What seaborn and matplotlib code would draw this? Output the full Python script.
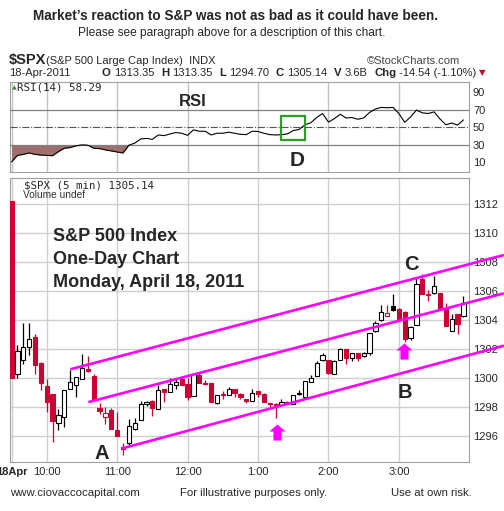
import matplotlib
matplotlib.use("Agg")
import numpy as np
import pandas as pd
import matplotlib.pyplot as plt
import seaborn as sns
from matplotlib.path import Path
from matplotlib.patches import Rectangle

# 5-minute bars of $SPX on 18-Apr-2011, 9:30 .. 3:55
opens = [1312.2, 1300.3, 1301.25, 1302.16, 1302.84, 1301.02, 1299.43, 1298.89, 1296.89, 1297.3,
         1299.25, 1299.55, 1299.9, 1300.64, 1300.11, 1297.93, 1297.3, 1297.8, 1296.39, 1295.25,
         1295.52, 1296.48, 1297.11, 1298.2, 1298.41, 1297.84, 1299.23, 1299.05, 1299.55, 1299.91,
         1299.57, 1298.77, 1300.23, 1299.68, 1299.68, 1298.25, 1298.93, 1298.86, 1299.27, 1298.93,
         1298.55, 1298.43, 1299.09, 1298.89, 1298.25, 1298.2, 1298.11, 1298.36, 1298.2, 1298.98,
         1298.7, 1299.7, 1300.11, 1301.27, 1301.25, 1300.3, 1301.27, 1302.0, 1301.39, 1301.73,
         1301.55, 1301.7, 1303.24, 1303.98, 1304.25, 1304.94, 1304.74, 1304.57, 1302.74, 1303.66,
         1306.8, 1305.82, 1305.89, 1305.84, 1304.8, 1303.24, 1304.39, 1304.28]
highs = [1312.2, 1302.3, 1303.8, 1303.8, 1303.0, 1301.1, 1299.95, 1298.89, 1297.86, 1299.2,
         1300.57, 1300.1, 1301.66, 1301.5, 1300.3, 1298.25, 1297.98, 1297.9, 1297.68, 1295.5,
         1297.16, 1297.25, 1298.41, 1298.43, 1298.48, 1299.55, 1299.23, 1300.02, 1299.91, 1300.14,
         1300.0, 1300.36, 1300.39, 1299.86, 1299.68, 1298.86, 1299.09, 1299.39, 1299.27, 1299.0,
         1298.55, 1299.25, 1299.09, 1298.95, 1298.3, 1298.25, 1298.52, 1298.4, 1298.86, 1299.16,
         1299.77, 1300.18, 1301.2, 1301.7, 1301.25, 1301.25, 1302.1, 1302.0, 1301.73, 1301.73,
         1301.82, 1303.09, 1303.93, 1305.0, 1305.0, 1305.82, 1304.8, 1304.6, 1303.6, 1306.92,
         1307.2, 1306.05, 1307.03, 1305.84, 1305.2, 1304.44, 1304.39, 1305.66]
lows = [1300.0, 1300.0, 1301.0, 1301.6, 1300.3, 1299.16, 1297.68, 1295.57, 1296.39, 1296.6,
        1299.25, 1298.7, 1299.9, 1300.4, 1298.45, 1297.5, 1296.84, 1296.48, 1295.98, 1294.7,
        1295.4, 1296.44, 1297.11, 1298.1, 1297.39, 1297.84, 1298.36, 1299.05, 1299.27, 1299.5,
        1298.48, 1298.77, 1299.68, 1299.52, 1298.36, 1298.18, 1298.55, 1298.82, 1298.66, 1298.57,
        1298.3, 1298.43, 1298.66, 1298.36, 1298.02, 1297.27, 1298.11, 1298.2, 1298.2, 1298.86,
        1298.55, 1299.7, 1300.11, 1301.2, 1300.3, 1300.3, 1301.27, 1300.98, 1301.2, 1301.16,
        1301.43, 1301.6, 1303.2, 1303.93, 1304.25, 1304.6, 1303.9, 1302.5, 1302.6, 1303.66,
        1305.77, 1305.31, 1305.77, 1304.85, 1303.59, 1303.24, 1303.05, 1304.2]
closes = [1300.0, 1301.84, 1302.16, 1302.68, 1300.93, 1299.66, 1298.36, 1297.07, 1297.45, 1299.2,
          1299.73, 1300.07, 1300.7, 1300.48, 1298.48, 1297.75, 1297.6, 1296.48, 1295.98, 1295.14,
          1296.66, 1296.89, 1298.18, 1298.34, 1297.91, 1299.16, 1299.05, 1299.57, 1299.75, 1299.5,
          1298.7, 1300.25, 1299.68, 1299.6, 1298.36, 1298.86, 1298.82, 1299.27, 1298.98, 1298.66,
          1298.43, 1299.0, 1298.93, 1298.36, 1298.18, 1298.11, 1298.32, 1298.2, 1298.86, 1298.89,
          1299.77, 1300.02, 1301.02, 1301.59, 1300.36, 1301.16, 1302.0, 1301.39, 1301.73, 1301.39,
          1301.73, 1303.09, 1303.8, 1304.57, 1304.46, 1304.67, 1304.05, 1302.67, 1303.54, 1306.5,
          1305.77, 1305.72, 1306.34, 1304.85, 1303.59, 1304.05, 1303.7, 1305.14]
prev_day_close = 1319.68

rsi = [10.2, 17.6, 18.8, 20.4, 18.8, 18.0, 17.6, 17.3, 22.0, 25.8,
       26.6, 28.6, 29.7, 29.3, 25.8, 25.4, 23.9, 22.7, 21.5, 20.4,
       29.3, 31.7, 36.4, 37.1, 36.0, 41.0, 40.3, 42.2, 43.8, 43.0,
       40.6, 46.9, 45.3, 45.3, 41.0, 43.0, 43.0, 44.2, 43.0, 41.8,
       41.4, 45.3, 45.0, 43.0, 41.4, 41.0, 41.4, 42.2, 46.1, 47.3,
       52.7, 55.0, 61.0, 65.6, 55.8, 59.7, 64.8, 60.5, 61.0, 59.0,
       60.5, 66.8, 70.7, 72.6, 72.2, 72.6, 65.6, 55.5, 61.7, 69.5,
       66.4, 65.6, 67.5, 59.4, 52.7, 54.7, 52.3, 58.29]

time_pos = [0, 6, 18, 30, 42, 54, 66]
time_labels = ["18Apr", "10:00", "11:00", "12:00", "1:00", "2:00", "3:00"]
price_ticks = [1296, 1298, 1300, 1302, 1304, 1306, 1308, 1310, 1312]
rsi_ticks = [10, 30, 50, 70, 90]

# trend channel drawn by hand on the chart (bar index, price)
channel_x = [[10.0, 83.9], [13.1, 83.9], [18.9, 83.9]]
channel_y = [[1300.6, 1308.48], [1298.34, 1305.84], [1295.15, 1302.23]]
arrow_x = [45.3, 66.9]
arrow_y = [1296.28, 1301.83]
point_labels = ["A", "B", "C"]
point_x = [15.4, 67.0, 68.1]
point_y = [1294.8, 1299.03, 1307.86]

RED = "#cc0033"
MAGENTA = "#ff00ff"
GRID = "#cfcfcf"
SPINE = "#a0a0a0"

sns.set_style("white")
plt.rcParams["font.family"] = ["Liberation Sans", "DejaVu Sans"]

df = pd.DataFrame({"open": opens, "high": highs, "low": lows, "close": closes, "rsi": rsi})
df["bar"] = np.arange(len(df))
prev = df["close"].shift(1).fillna(prev_day_close)
df["color"] = np.where(df["close"] < prev, RED, "black")
df["hollow"] = df["close"] > df["open"]

W, H = 504, 511
fig = plt.figure(figsize=(W / 100, H / 100), dpi=100)


def box(left, top, right, bottom):
    return [left / W, 1 - bottom / H, (right - left) / W, (bottom - top) / H]


ax_rsi = fig.add_axes(box(10, 82, 469.3, 172))
ax = fig.add_axes(box(10, 178, 469.3, 461.7))

# ---- RSI panel
r = df["rsi"].to_numpy()
for t in time_pos:
    ax_rsi.axvline(t, color="#c2c2c2", lw=1.0, zorder=1)
ax_rsi.fill_between(df["bar"], r, 30, where=r < 30, interpolate=True, color="#a06e6c", lw=0,
                    zorder=2)
sns.lineplot(data=df, x="bar", y="rsi", ax=ax_rsi, color="black", lw=0.8, zorder=4)
ax_rsi.set_xlabel("")
ax_rsi.set_ylabel("")
ax_rsi.set_ylim(-1.4, 101.7)
ax_rsi.set_yticks(rsi_ticks)
ax_rsi.axhline(70, color="#808080", lw=0.9, zorder=3)
ax_rsi.axhline(30, color="#808080", lw=0.9, zorder=3)
ax_rsi.axhline(50, color="#555555", lw=0.8, ls="-.", zorder=3)
ax_rsi.add_patch(Rectangle((45.9, 35.6), 4.1, 26.9, fill=False, ec="#2c9a2c", lw=1.6, zorder=5))
ax_rsi.text(0.004, 0.935, "\u25b2", transform=ax_rsi.transAxes, color="#4a8a4a", fontsize=4.5,
            family="DejaVu Sans", va="center", ha="left")
ax_rsi.text(0.016, 0.935, "RSI(14) 58.29", transform=ax_rsi.transAxes, fontsize=7.8,
            family="DejaVu Sans Mono", va="center", ha="left")
ax_rsi.text(0.398, 0.78, "RSI", transform=ax_rsi.transAxes, fontsize=12, weight="bold",
            ha="center", va="center")
ax_rsi.text(48.6, 11.5, "D", fontsize=15, weight="bold", ha="center", va="center", clip_on=False,
            zorder=6)

# ---- price panel
ax.vlines(time_pos, 1294.23, 1313.79, color=GRID, lw=1.0, zorder=1)
ax.hlines(price_ticks, -0.26, 78.0, color=GRID, lw=1.0, zorder=1)
ax.vlines(df["bar"], df["low"], df["high"], colors=df["color"], lw=0.9, zorder=2)
body_low = np.minimum(df["open"], df["close"])
body_h = np.maximum((df["close"] - df["open"]).abs(), 0.07)
faces = np.where(df["hollow"], "white", df["color"])
ax.bar(df["bar"], body_h, bottom=body_low, width=0.72, color=faces, edgecolor=df["color"],
       linewidth=0.8, zorder=3)

for cx, cy in zip(channel_x, channel_y):
    ax.plot(cx, cy, color=MAGENTA, lw=1.9, clip_on=False, zorder=4, solid_capstyle="butt")

arrow = Path([(0, 0.5), (0.5, 0.06), (0.25, 0.06), (0.25, -0.5), (-0.25, -0.5),
              (-0.25, 0.06), (-0.5, 0.06), (0, 0.5)],
             [Path.MOVETO] + [Path.LINETO] * 6 + [Path.CLOSEPOLY])
ax.scatter(arrow_x, arrow_y, marker=arrow, s=135, color=MAGENTA, lw=0, zorder=5)

for lab, px, py in zip(point_labels, point_x, point_y):
    ax.text(px, py, lab, fontsize=14.5, weight="bold", ha="center", va="center", zorder=6)

ax.set_ylim(1294.23, 1313.79)
ax.set_yticks(price_ticks)
ax.text(0.0312, 0.975, "$SPX (5 min) 1305.14", transform=ax.transAxes, fontsize=7.8,
        family="DejaVu Sans Mono", va="center", ha="left")
ax.text(0.0277, 0.940, "Volume undef", transform=ax.transAxes, fontsize=7.3, color="#333333",
        va="center", ha="left")
for k, line in enumerate(["S&P 500 Index", "One-Day Chart", "Monday, April 18, 2011"]):
    ax.text(0.0936, [0.793, 0.713, 0.631][k], line, transform=ax.transAxes, fontsize=13,
            weight="bold", va="center", ha="left")

for a in (ax_rsi, ax):
    a.set_xlim(-0.26, 78.0)
    for s in a.spines.values():
        s.set_color(SPINE)
        s.set_linewidth(0.8)
    a.set_xticks(time_pos)
    a.yaxis.tick_right()
    a.tick_params(axis="y", length=0, pad=2.6, labelsize=8)

ax_rsi.set_xticklabels([])
ax_rsi.tick_params(axis="x", length=0)
ax.set_xticklabels(time_labels)
ax.get_xticklabels()[0].set_fontweight("bold")
ax.tick_params(axis="x", length=0, pad=3.5, labelsize=8)
ax.set_xticks(df["bar"], minor=True)
ax.tick_params(axis="x", which="minor", length=1.5, color=SPINE, width=0.6, direction="out")

# ---- header
fig.text(235.5 / W, 1 - 16 / H, "Market\u2019s reaction to S&P was not as bad as it could have been.",
         ha="center", va="center", fontsize=9.8, weight="bold")
fig.text(231.5 / W, 1 - 33.3 / H, "Please see paragraph above for a description of this chart.",
         ha="center", va="center", fontsize=8.6)
fig.text(9 / W, 1 - 60 / H, "$SPX", fontsize=10.5, weight="bold", va="center")
fig.text(46 / W, 1 - 60.5 / H, "(S&P 500 Large Cap Index)  INDX", fontsize=8, va="center")
fig.text(460 / W, 1 - 60.5 / H, "\u00a9StockCharts.com", fontsize=8, va="center", ha="right",
         color="#444444")
fig.text(9 / W, 1 - 72.7 / H, "18-Apr-2011", fontsize=8, va="center")

pieces = [("O", True), ("1313.35", False), ("H", True), ("1313.35", False), ("L", True),
          ("1294.70", False), ("C", True), ("1305.14", False), ("V", True), ("3.6B", False),
          ("Chg", True), ("-14.54 (-1.10%)", False)]
prev_t = None
for txt, bold in pieces:
    if prev_t is None:
        prev_t = fig.text(102 / W, 1 - 72.7 / H, txt, fontsize=8.2, weight="bold", va="center")
        continue
    gap = 2 if not bold else 5
    prev_t = ax_rsi.annotate(txt, xy=(1, 0.5), xycoords=prev_t, xytext=(gap, 0),
                             textcoords="offset points", va="center", ha="left",
                             fontsize=8.2 if bold else 8, weight="bold" if bold else "normal",
                             annotation_clip=False)
ax_rsi.annotate("\u25bc", xy=(1, 0.5), xycoords=prev_t, xytext=(2, 0), textcoords="offset points",
                va="center", ha="left", fontsize=6, color=RED, family="DejaVu Sans",
                annotation_clip=False)

# ---- footer
fig.text(10 / W, 1 - 492.7 / H, "www.ciovaccocapital.com", fontsize=8.2, va="center")
fig.text(180 / W, 1 - 492.7 / H, "For illustrative purposes only.", fontsize=8.2, va="center")
fig.text(472 / W, 1 - 492.7 / H, "Use at own risk.", fontsize=8.2, va="center", ha="right")

fig.savefig("out.png", dpi=100)
